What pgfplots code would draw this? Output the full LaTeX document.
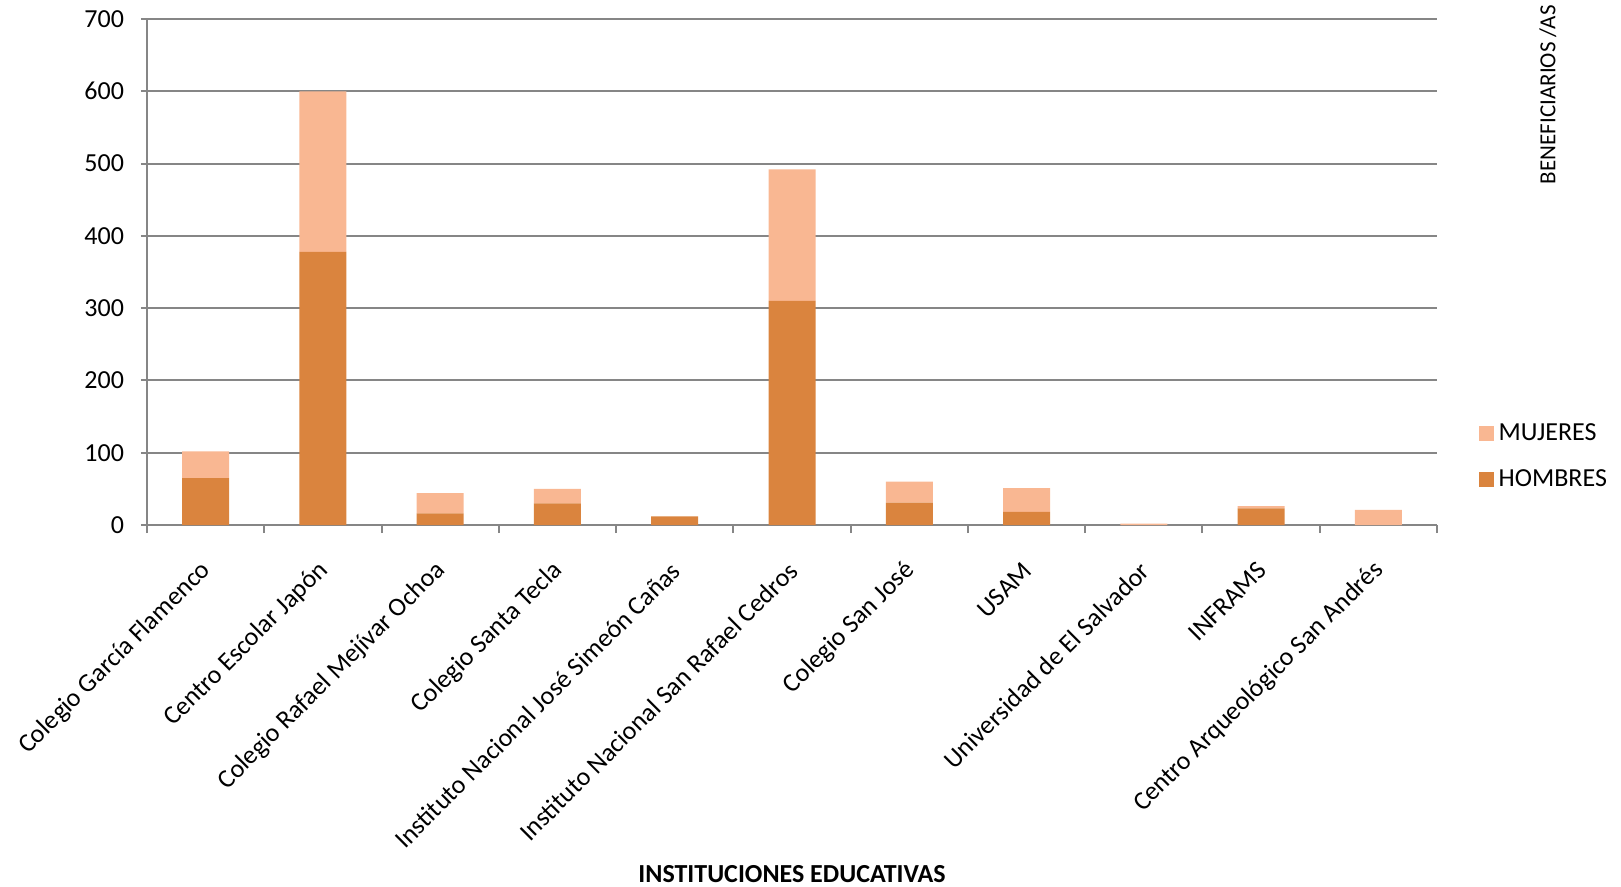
\documentclass[border=0pt]{standalone}
\usepackage{fontspec}
\setmainfont{Carlito}
\usepackage{pgfplots}
\pgfplotsset{compat=1.18}
\definecolor{hombres}{RGB}{218,132,62}
\definecolor{mujeres}{RGB}{249,183,146}
\definecolor{gridgray}{RGB}{134,134,134}
\begin{document}
\begin{tikzpicture}
\useasboundingbox (-73.5bp,-181bp) rectangle (737bp,262.5bp);
\begin{axis}[
  at={(0,0)}, anchor=south west,
  scale only axis, width=645bp, height=253bp,
  ybar stacked, bar width=23.5bp,
  xmin=-0.5, xmax=10.5, ymin=0, ymax=700,
  ytick={0,100,...,700},
  xtick={0,...,10},
  minor xtick={-0.5,0.5,...,10.5},
  xticklabels={Colegio García Flamenco, Centro Escolar Japón, Colegio Rafael Mejívar Ochoa, Colegio Santa Tecla, Instituto Nacional José Simeón Cañas, Instituto Nacional San Rafael Cedros, Colegio San José, USAM, Universidad de El Salvador, INFRAMS, Centro Arqueológico San Andrés},
  axis lines*=left,
  axis line style={gridgray, line width=1pt},
  ymajorgrids, grid style={gridgray, line width=1pt},
  tick align=outside,
  major tick length=3bp, minor tick length=4bp,
  tick style={gridgray, line width=1pt},
  major x tick style={draw=none},
  /pgf/number format/assume math mode=true,
  ticklabel style={font=\fontsize{13bp}{15bp}\selectfont},
  yticklabel style={xshift=-5bp},
  xticklabel style={rotate=45, anchor=east, inner sep=0pt, yshift=-13bp, xshift=-12bp},
  xlabel={INSTITUCIONES EDUCATIVAS},
  xlabel style={at={(axis description cs:0.5,-0.69)}, anchor=center, font=\bfseries\fontsize{13bp}{15bp}\selectfont},
  ylabel={BENEFICIARIOS /AS},
  ylabel style={at={(axis description cs:1.086,1.028)}, anchor=east, font=\fontsize{11.5bp}{13bp}\selectfont, inner sep=0pt},
  legend style={at={(axis description cs:1.032,0.136)}, anchor=west, draw=none, fill=none,
    font=\fontsize{13bp}{15bp}\selectfont, row sep=8bp, inner sep=0pt,
    nodes={inner sep=2.5bp, anchor=west}},
  legend image code/.code={\fill[#1] (0bp,-3.75bp) rectangle (7.5bp,3.75bp);},
  legend cell align=left,
  reverse legend,
]
\addplot[fill=hombres, draw=none] coordinates {
  (0,65) (1,378) (2,16) (3,30) (4,12) (5,310) (6,31) (7,18) (8,0) (9,23) (10,0)
};
\addplot[fill=mujeres, draw=none] coordinates {
  (0,37) (1,222) (2,28) (3,20) (4,0) (5,182) (6,29) (7,33) (8,2) (9,3) (10,21)
};
\legend{HOMBRES, MUJERES}
\end{axis}
\end{tikzpicture}
\end{document}
